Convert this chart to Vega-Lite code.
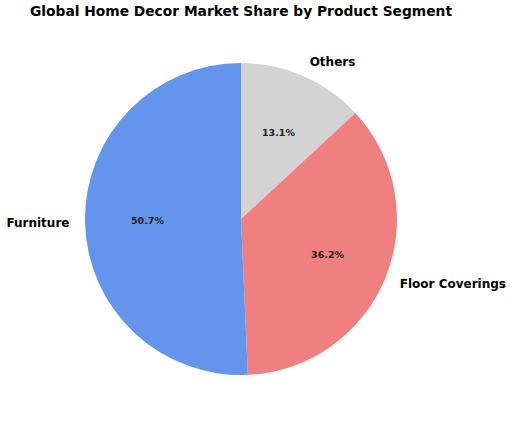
{
  "$schema": "https://vega.github.io/schema/vega-lite/v6.json",
  "width": 482,
  "height": 438,
  "autosize": "none",
  "padding": {"left": 0, "top": 0, "right": 30, "bottom": 0},
  "background": "white",
  "title": {
    "text": "Global Home Decor Market Share by Product Segment",
    "font": "DejaVu Sans",
    "fontSize": 13.8,
    "fontWeight": "bold",
    "color": "#000000",
    "anchor": "middle",
    "offset": -19
  },
  "data": {
    "values": [
      {"segment": "Others", "share": 13.1, "order": 1, "label": "13.1%"},
      {"segment": "Floor Coverings", "share": 36.2, "order": 2, "label": "36.2%"},
      {"segment": "Furniture", "share": 50.7, "order": 3, "label": "50.7%"}
    ]
  },
  "encoding": {
    "theta": {"field": "share", "type": "quantitative", "stack": true},
    "order": {"field": "order", "type": "quantitative"}
  },
  "layer": [
    {
      "mark": {"type": "arc", "outerRadius": 156},
      "encoding": {
        "color": {
          "field": "segment",
          "type": "nominal",
          "scale": {
            "domain": ["Furniture", "Floor Coverings", "Others"],
            "range": ["#6495ED", "#F08080", "#D3D3D3"]
          },
          "legend": null
        }
      }
    },
    {
      "mark": {"type": "text", "radius": 93.6, "font": "DejaVu Sans", "fontSize": 9.5, "fontWeight": "bold", "color": "#222222", "baseline": "middle", "align": "center"},
      "encoding": {"text": {"field": "label"}}
    },
    {
      "mark": {
        "type": "text",
        "radius": 171.6,
        "font": "DejaVu Sans",
        "fontSize": 12,
        "fontWeight": "bold",
        "color": "#000000",
        "baseline": "middle",
        "align": {"expr": "datum.segment === 'Furniture' ? 'right' : 'left'"}
      },
      "encoding": {"text": {"field": "segment"}}
    }
  ],
  "config": {"view": {"stroke": null}}
}
